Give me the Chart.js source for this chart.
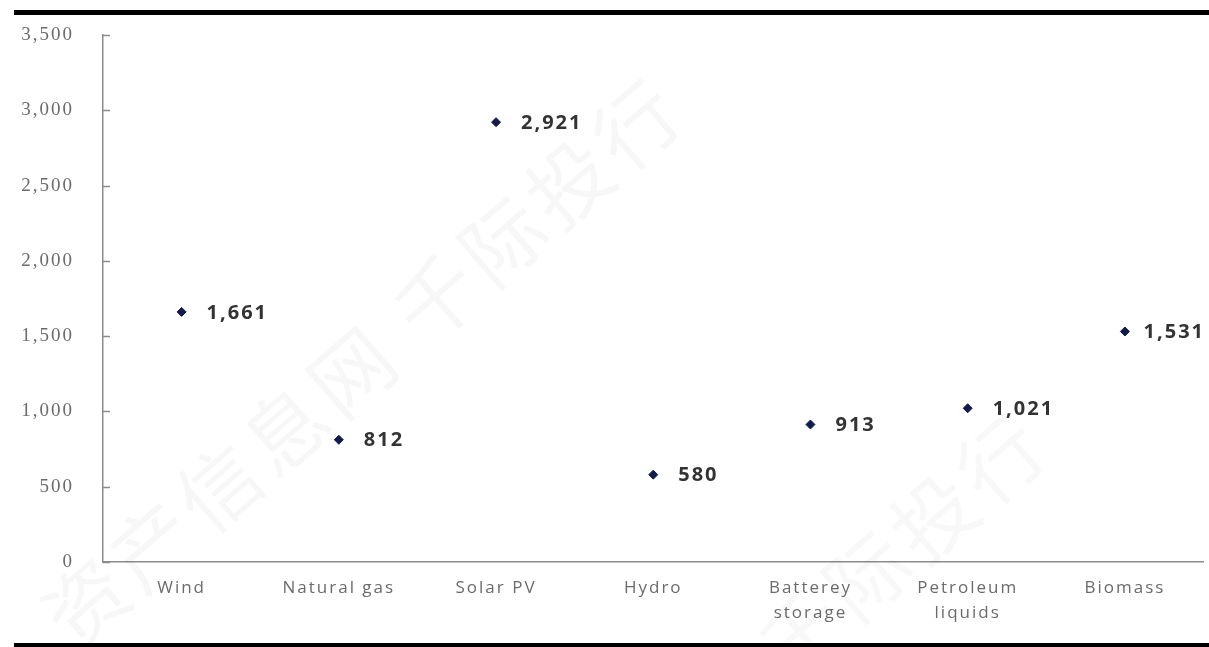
<!DOCTYPE html>
<html>
<head>
<meta charset="utf-8">
<style>
  html, body { margin: 0; padding: 0; background: #fff; }
  #wrap { width: 1209px; height: 647px; }
</style>
<script src="https://cdn.jsdelivr.net/npm/chart.js@4/dist/chart.umd.min.js"></script>
</head>
<body>
<div id="wrap"><canvas id="capacityChart" width="1209" height="647"></canvas></div>
<script>
// capacity additions by technology
const categories = ["Wind", "Natural gas", "Solar PV", "Hydro", ["Batterey", "storage"], ["Petroleum", "liquids"], "Biomass"];
const capacityValues = [1661, 812, 2921, 580, 913, 1021, 1531];
const yTicks = [0, 500, 1000, 1500, 2000, 2500, 3000, 3500];

const AXIS_GREY = "#8c8c8c";
const TEXT_GREY = "#6b6b6b";

// shared letter spacing for all canvas text (context resets on resize)
const spacingPlugin = {
    id: "spacing",
    beforeLayout(chart) { chart.ctx.letterSpacing = "2px"; },
    beforeDraw(chart) { chart.ctx.letterSpacing = "2px"; }
};

// faint diagonal watermark text
const watermarkPlugin = {
    id: "watermark",
    beforeDatasetsDraw(chart) {
        const ctx = chart.ctx;
        ctx.save();
        ctx.fillStyle = "rgba(0,0,0,0.03)";
        ctx.font = "82px 'Noto Sans CJK SC'";
        ctx.letterSpacing = "6px";
        ctx.textBaseline = "middle";
        ctx.translate(55, 630);
        ctx.rotate(-41 * Math.PI / 180);
        ctx.fillText("资产信息网 千际投行", 0, 0);
        ctx.restore();
        ctx.save();
        ctx.fillStyle = "rgba(0,0,0,0.028)";
        ctx.font = "82px 'Noto Sans CJK SC'";
        ctx.letterSpacing = "6px";
        ctx.textBaseline = "middle";
        ctx.translate(770, 660);
        ctx.rotate(-41 * Math.PI / 180);
        ctx.fillText("千际投行", 0, 0);
        ctx.restore();
    }
};

// heavy rules at the top and bottom of the figure, inner ticks on the value axis
const framePlugin = {
    id: "frame",
    afterDraw(chart) {
        const ctx = chart.ctx;
        ctx.save();
        ctx.fillStyle = "#000";
        ctx.fillRect(14, 10, chart.width - 14, 5);
        ctx.fillRect(14, 643, chart.width - 14, 4);

        const y = chart.scales.y;
        ctx.strokeStyle = AXIS_GREY;
        ctx.lineWidth = 1.5;
        ctx.beginPath();
        y.ticks.forEach(t => {
            const py = Math.round(y.getPixelForValue(t.value)) + 0.5;
            ctx.moveTo(y.right, py);
            ctx.lineTo(y.right + 7, py);
        });
        ctx.stroke();
        ctx.restore();
    }
};

// value labels to the right of each marker
const valueLabelPlugin = {
    id: "valueLabels",
    afterDatasetsDraw(chart) {
        const ctx = chart.ctx;
        const meta = chart.getDatasetMeta(0);
        ctx.save();
        ctx.font = "bold 20px 'Open Sans'";
        ctx.letterSpacing = "2px";
        ctx.fillStyle = "#333";
        ctx.textAlign = "left";
        ctx.textBaseline = "middle";
        meta.data.forEach((pt, i) => {
            const text = capacityValues[i].toLocaleString("en-US");
            const w = ctx.measureText(text).width;
            let offset = 25;
            const room = chart.width - 4 - w - pt.x;
            if (room < offset) offset = Math.max(7, room);
            ctx.fillText(text, pt.x + offset, pt.y + 1);
        });
        ctx.restore();
    }
};

const ctx = document.getElementById("capacityChart").getContext("2d");
new Chart(ctx, {
    type: "line",
    data: {
        labels: categories,
        datasets: [{
            data: capacityValues,
            showLine: false,
            pointStyle: "rectRot",
            pointRadius: 4.5,
            pointHoverRadius: 4.5,
            pointBackgroundColor: "#0f1c4d",
            pointBorderColor: "#0f1c4d",
            pointBorderWidth: 1
        }]
    },
    options: {
        responsive: false,
        animation: false,
        events: [],
        layout: { padding: { top: 35, right: 0, left: 0, bottom: 0 } },
        plugins: {
            legend: { display: false },
            tooltip: { enabled: false }
        },
        scales: {
            x: {
                offset: true,
                grid: { display: false, drawTicks: false },
                border: { display: true, color: AXIS_GREY, width: 1.5 },
                ticks: {
                    color: TEXT_GREY,
                    font: { family: "'Open Sans'", size: 17, lineHeight: 1.45 },
                    padding: 14,
                    maxRotation: 0,
                    autoSkip: false
                },
                afterFit(scale) {
                    scale.height = 85;
                    scale.paddingLeft = 0;
                    scale.paddingRight = 0;
                }
            },
            y: {
                min: 0,
                max: 3500,
                afterBuildTicks(scale) {
                    scale.ticks = yTicks.map(v => ({ value: v }));
                },
                grid: { display: false, drawTicks: false },
                border: { display: true, color: AXIS_GREY, width: 1.5 },
                ticks: {
                    color: TEXT_GREY,
                    font: { family: "'Liberation Serif'", size: 19 },
                    padding: 29,
                    callback: v => v.toLocaleString("en-US")
                },
                afterFit(scale) {
                    scale.width = 103;
                    scale.paddingTop = 0;
                    scale.paddingBottom = 0;
                }
            }
        }
    },
    plugins: [spacingPlugin, watermarkPlugin, framePlugin, valueLabelPlugin]
});
</script>
</body>
</html>
